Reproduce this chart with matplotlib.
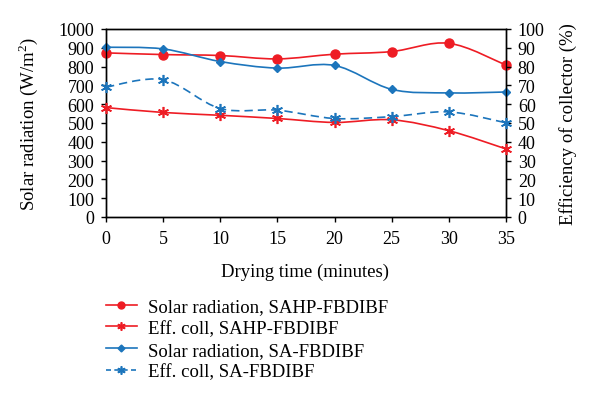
import matplotlib
matplotlib.use("Agg")
import matplotlib.pyplot as plt
import numpy as np
from matplotlib.path import Path
from matplotlib.patches import PathPatch
from matplotlib.lines import Line2D

plt.rcParams['font.family'] = ['Liberation Serif', 'DejaVu Serif']
plt.rcParams['mathtext.fontset'] = 'custom'
plt.rcParams['mathtext.rm'] = 'Liberation Serif'

time = [0, 5, 10, 15, 20, 25, 30, 35]
solar_sahp = [873, 864, 859, 841, 866, 880, 924, 808]
solar_sa = [903, 894, 827, 792, 806, 679, 660, 665]
eff_sahp = [58.2, 55.6, 54.1, 52.4, 50.3, 51.7, 45.9, 36.2]
eff_sa = [69.1, 73.0, 57.7, 56.8, 52.4, 53.4, 55.9, 50.1]

RED = '#EE1C24'
BLUE = '#1C75BC'
FS = 13

fig = plt.figure(figsize=(6, 4.06), dpi=100)
ax = fig.add_axes([106/600, 1-218/406, 400/600, 188/406])
ax2 = ax.twinx()

def smooth(axis, xs, ys, color, ls):
    # smooth bezier path through the data points (rendering only)
    x = np.asarray(xs, float); y = np.asarray(ys, float)
    verts = [(x[0], y[0])]; codes = [Path.MOVETO]
    n = len(x)
    for i in range(n - 1):
        p0 = (x[max(i-1, 0)], y[max(i-1, 0)])
        p1 = (x[i], y[i]); p2 = (x[i+1], y[i+1])
        p3 = (x[min(i+2, n-1)], y[min(i+2, n-1)])
        t = 1/6
        c1 = (p1[0] + (p2[0]-p0[0])*t, p1[1] + (p2[1]-p0[1])*t)
        c2 = (p2[0] - (p3[0]-p1[0])*t, p2[1] - (p3[1]-p1[1])*t)
        verts += [c1, c2, p2]; codes += [Path.CURVE4]*3
    patch = PathPatch(Path(verts, codes), fill=False, edgecolor=color,
                      linestyle=ls, linewidth=1.2, zorder=2, clip_on=False)
    axis.add_patch(patch)

smooth(ax, time, solar_sahp, RED, '-')
smooth(ax, time, solar_sa, BLUE, '-')
smooth(ax2, time, eff_sahp, RED, '-')
smooth(ax2, time, eff_sa, BLUE, (0, (5, 3)))

ast = (6, 2, 0)
ax.plot(time, solar_sahp, 'o', color=RED, ms=6.5, zorder=3, clip_on=False)
ax.plot(time, solar_sa, 'D', color=BLUE, ms=4.5, zorder=3, clip_on=False)
ax2.plot(time, eff_sahp, marker=ast, ls='none', color=RED, ms=8, mew=1.2, zorder=3, clip_on=False)
ax2.plot(time, eff_sa, marker=ast, ls='none', color=BLUE, ms=8, mew=1.2, zorder=3, clip_on=False)

ax.set_xlim(0, 35)
ax.set_ylim(0, 1000)
ax2.set_ylim(0, 100)
ax.set_xticks(time)
ax.set_yticks(range(0, 1001, 100))
ax2.set_yticks(range(0, 101, 10))
for a in (ax, ax2):
    for s in a.spines.values():
        s.set_linewidth(1.0)
    a.tick_params(labelsize=FS, direction='out', length=3.5, width=1, pad=5)
ax.tick_params(axis='x', pad=6)

ax.set_xlabel('Drying time (minutes)', fontsize=13.5)
ax.set_ylabel('Solar radiation (W/m$^2$)', fontsize=13.5)
ax2.set_ylabel('Efficiency of collector (%)', fontsize=13.5)
ax.xaxis.set_label_coords((305-106)/400, (218-272)/188)
ax.xaxis.label.set_va('center')
ax.yaxis.set_label_coords((28-106)/400, 0.5)
ax.yaxis.label.set_va('center')
ax2.yaxis.set_label_coords((568-106)/400, 0.5)
ax2.yaxis.label.set_va('center')

handles = [
    Line2D([], [], color=RED, marker='o', ms=5, lw=1.2),
    Line2D([], [], color=RED, marker=ast, ms=6, mew=1.2, lw=1.2),
    Line2D([], [], color=BLUE, marker='D', ms=3.5, lw=1.2),
    Line2D([], [], color=BLUE, marker=ast, ms=6, mew=1.2, lw=1.2, ls=(0, (3, 2))),
]
labels = ['Solar radiation, SAHP-FBDIBF', 'Eff. coll, SAHP-FBDIBF',
          'Solar radiation, SA-FBDIBF', 'Eff. coll, SA-FBDIBF']
fig.legend(handles, labels, loc='upper left', bbox_to_anchor=(106/600, 1-299/406),
           frameon=False, fontsize=13.5, handlelength=1.65, handletextpad=0.6,
           labelspacing=0.25, borderpad=0, borderaxespad=0)

fig.savefig('out.png', dpi=100)
